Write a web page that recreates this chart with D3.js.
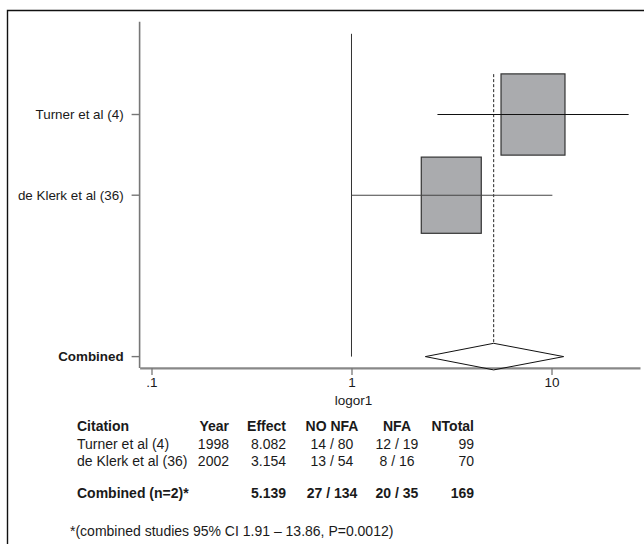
<!DOCTYPE html>
<html>
<head>
<meta charset="utf-8">
<script src="https://cdn.jsdelivr.net/npm/d3@7"></script>
<style>
  html, body { margin: 0; padding: 0; background: #fff; }
  svg { display: block; }
  text { font-family: "Liberation Sans", Arial, Helvetica, sans-serif; fill: #1a1a1a; }
</style>
</head>
<body>
<svg id="chart" width="644" height="544"></svg>
<script>
// Study-level results (odds ratios on a log axis)
const studies = ["Turner et al (4)", "de Klerk et al (36)"];
const years = [1998, 2002];
const effects = [8.082, 3.154];
const ciLow = [2.69, 1.0];
const ciHigh = [24.3, 10.1];
const weights = [53.2, 46.8];
const noNfa = ["14 / 80", "13 / 54"];
const nfa = ["12 / 19", "8 / 16"];
const nTotal = [99, 70];

// Pooled estimate
const combinedLabel = "Combined";
const combinedEffect = 5.139;
const combinedLow = 2.34;
const combinedHigh = 11.5;
const combinedNoNfa = "27 / 134";
const combinedNfa = "20 / 35";
const combinedTotal = 169;

// Axis
const xTicks = [0.1, 1, 10];
const xTickLabels = [".1", "1", "10"];
const xTitle = "logor1";
const footnote = "*(combined studies 95% CI 1.91 \u2013 13.86, P=0.0012)";

const svg = d3.select("#chart");

// Outer frame (open to the right and bottom of the page)
svg.append("path")
  .attr("d", "M7.5,560 V10.5 H660")
  .attr("fill", "none").attr("stroke", "#111").attr("stroke-width", 1.4);

const x = d3.scaleLog().domain([0.0872, 27.7]).range([139.6, 640]);
// rows: 0 and 1 are studies, 3 is the pooled line
const y = d3.scaleLinear().domain([-1.15, 3.14]).range([21.7, 367.9]);
const rowIdx = [0, 1];
const combinedRow = 3;

// box side grows with the square root of the study weight
const boxScale = d3.scaleSqrt().domain([0, 100]).range([0, 87.7]);

// y axis
svg.append("line")
  .attr("x1", x.range()[0]).attr("x2", x.range()[0])
  .attr("y1", y.range()[0]).attr("y2", y.range()[1])
  .attr("stroke", "#777").attr("stroke-width", 1.6);

const yLabels = studies.map((s, i) => ({ label: s, row: rowIdx[i], bold: false }))
  .concat([{ label: combinedLabel, row: combinedRow, bold: true }]);

const yl = svg.append("g");
yLabels.forEach(d => {
  yl.append("line")
    .attr("x1", x.range()[0] - 8).attr("x2", x.range()[0])
    .attr("y1", y(d.row)).attr("y2", y(d.row))
    .attr("stroke", "#777").attr("stroke-width", 1.4);
  yl.append("text")
    .attr("x", x.range()[0] - 16).attr("y", y(d.row))
    .attr("dy", "0.35em").attr("text-anchor", "end")
    .attr("font-size", 13.4).attr("font-weight", d.bold ? "bold" : "normal")
    .text(d.label);
});

// x axis
const xAxis = d3.axisBottom(x)
  .tickValues(xTicks)
  .tickFormat((d, i) => xTickLabels[i])
  .tickSize(7).tickSizeOuter(0).tickPadding(3);
const gx = svg.append("g").attr("transform", `translate(0,${y.range()[1]})`).call(xAxis);
gx.select(".domain").attr("stroke", "#888").attr("stroke-width", 2.2);
gx.selectAll(".tick line").attr("stroke", "#777").attr("stroke-width", 1.3);
gx.selectAll(".tick text").attr("font-size", 13.5).attr("fill", "#1a1a1a")
  .attr("font-family", "Liberation Sans, Arial, sans-serif");

svg.append("text")
  .attr("x", x(1.0) + 2).attr("y", 405).attr("text-anchor", "middle")
  .attr("font-size", 13.5).text(xTitle);

// null line at OR = 1
svg.append("line")
  .attr("x1", x(1)).attr("x2", x(1))
  .attr("y1", y(-1)).attr("y2", y(combinedRow))
  .attr("stroke", "#333").attr("stroke-width", 1);

// pooled effect dashed line
const halfDiamond = 13.3;
svg.append("line")
  .attr("x1", x(combinedEffect)).attr("x2", x(combinedEffect))
  .attr("y1", y(-0.5)).attr("y2", y(combinedRow) - halfDiamond)
  .attr("stroke", "#222").attr("stroke-width", 1).attr("stroke-dasharray", "3,2");

// study boxes and CI lines
studies.forEach((s, i) => {
  const cy = y(rowIdx[i]);
  const w = boxScale(weights[i]);
  const h = w * 1.27;
  svg.append("rect")
    .attr("x", x(effects[i]) - w / 2).attr("y", cy - h / 2)
    .attr("width", w).attr("height", h)
    .attr("fill", "#aaabae").attr("stroke", "#333").attr("stroke-width", 1.2);
  svg.append("line")
    .attr("x1", x(ciLow[i])).attr("x2", x(ciHigh[i]))
    .attr("y1", cy).attr("y2", cy)
    .attr("stroke", i === 0 ? "#111" : "#444").attr("stroke-width", 1.1);
});

// pooled diamond
const cyC = y(combinedRow);
svg.append("path")
  .attr("d", d3.line()([
    [x(combinedLow), cyC],
    [x(combinedEffect), cyC - halfDiamond],
    [x(combinedHigh), cyC],
    [x(combinedEffect), cyC + halfDiamond]
  ]) + "Z")
  .attr("fill", "none").attr("stroke", "#111").attr("stroke-width", 1);

// summary table
const cols = [
  { head: "Citation", x: 77, anchor: "start" },
  { head: "Year", x: 229, anchor: "end" },
  { head: "Effect", x: 286, anchor: "end" },
  { head: "NO NFA", x: 332, anchor: "middle" },
  { head: "NFA", x: 397, anchor: "middle" },
  { head: "NTotal", x: 474, anchor: "end" }
];
const rowsY = [426, 444, 461];
const combinedY = 493;
const tbl = svg.append("g").attr("font-size", 14);

cols.forEach(c => {
  tbl.append("text").attr("x", c.x).attr("y", rowsY[0]).attr("dy", "0.35em")
    .attr("text-anchor", c.anchor).attr("font-weight", "bold").text(c.head);
});
studies.forEach((s, i) => {
  const vals = [s, years[i], effects[i].toFixed(3), noNfa[i], nfa[i], nTotal[i]];
  cols.forEach((c, j) => {
    tbl.append("text").attr("x", c.x).attr("y", rowsY[i + 1]).attr("dy", "0.35em")
      .attr("text-anchor", c.anchor).text(vals[j]);
  });
});
const combVals = ["Combined (n=2)*", "", combinedEffect.toFixed(3), combinedNoNfa, combinedNfa, combinedTotal];
cols.forEach((c, j) => {
  tbl.append("text").attr("x", c.x).attr("y", combinedY).attr("dy", "0.35em")
    .attr("text-anchor", c.anchor).attr("font-weight", "bold").text(combVals[j]);
});

svg.append("text").attr("x", 70).attr("y", 531).attr("dy", "0.35em")
  .attr("font-size", 14).text(footnote);
</script>
</body>
</html>
